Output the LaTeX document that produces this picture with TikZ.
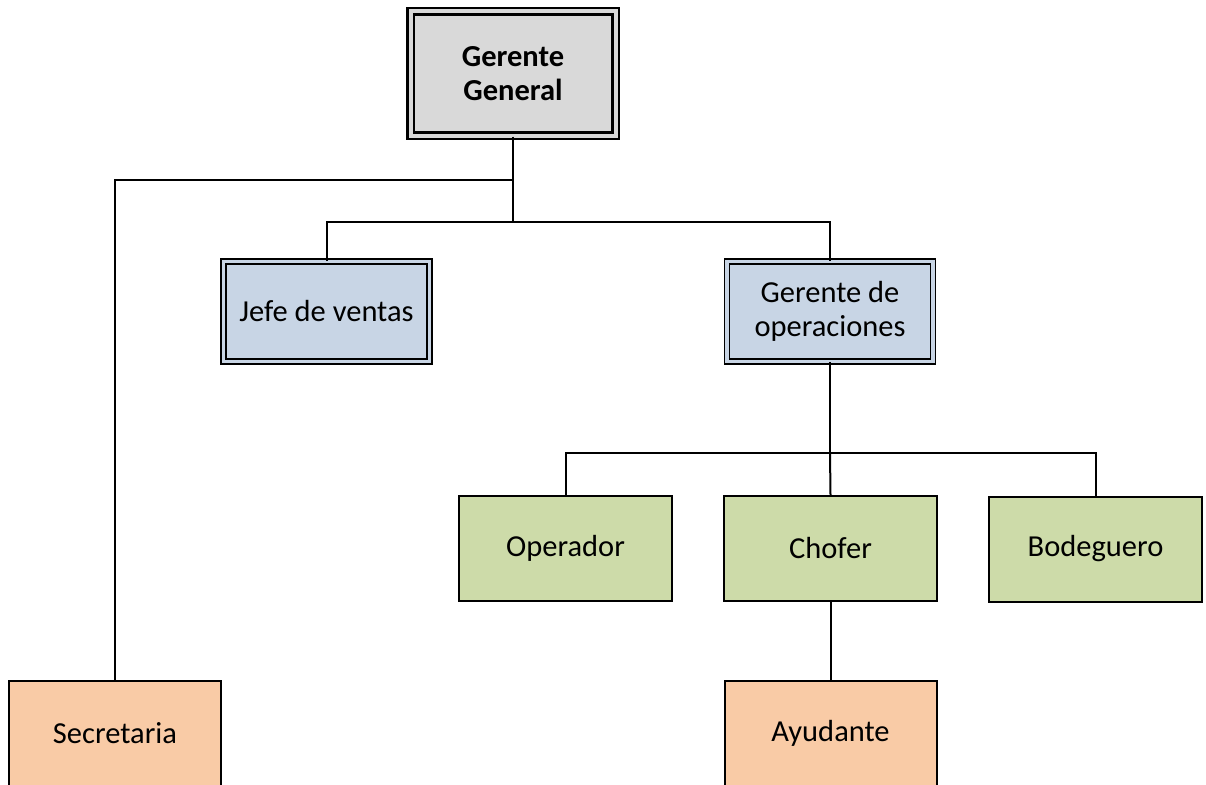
\documentclass[tikz,border=0pt]{standalone}
\usepackage{fontspec}
\setmainfont{Carlito}
\definecolor{topgray}{HTML}{D9D9D9}
\definecolor{mgrblue}{HTML}{C8D5E5}
\definecolor{opgreen}{HTML}{CDDBA9}
\definecolor{staffor}{HTML}{F9CBA6}
\tikzset{
  box/.style={draw=black, line width=2pt, align=center, inner sep=0pt,
    font=\fontsize{30.5}{34}\selectfont, text=black},
  dbox/.style={box, double=#1, line width=1.6pt, double distance=3.2pt, fill=#1},
  mgr/.style={dbox=mgrblue, minimum width=206pt, minimum height=100pt},
  staff/.style={box, fill=opgreen, minimum width=213pt, minimum height=105pt},
  helper/.style={box, fill=staffor, minimum width=212pt, minimum height=105pt},
  link/.style={draw=black, line width=2pt}
}
\begin{document}
\begin{tikzpicture}[x=1pt,y=-1pt]
\useasboundingbox (0,0) rectangle (1206,784);
\clip (0,0) rectangle (1206,784);

% top of the chart
\node[dbox=topgray, line width=2.2pt, double distance=4pt,
      minimum width=205pt, minimum height=124pt, font=\fontsize{30.5}{34.5}\selectfont\bfseries]
  (gg) at (513,73.5) {Gerente\\General};

% managers
\node[mgr] (jv) at (326.5,311.5) {Jefe de ventas};
\node[mgr] (go) at (830,311.5) {Gerente de\\operaciones};

% operations staff
\node[staff] (op) at (565.5,548.5) {Operador};
\node[staff] (ch) at (830.5,548.5) {Chofer};
\node[staff] (bo) at (1095.5,549) {Bodeguero};

% support staff
\node[helper] (se) at (115,733.5) {Secretaria};
\node[helper] (ay) at (830.5,733.5) {Ayudante};

% junction points
\coordinate (jsec) at (513,180);
\coordinate (jmgr) at (513,222);
\coordinate (jops) at (830,453);

% connectors
\draw[link] (gg.south) -- (jmgr);
\draw[link] (jsec) -| (se.north);
\draw[link] (jmgr) -| (jv.north);
\draw[link] (jmgr) -| (go.north);
\draw[link] (go.south) -- (jops);
\draw[link] (jops) -| (op.north);
\draw[link] (jops) -- (ch.north);
\draw[link] (jops) -| (bo.north);
\draw[link] (ch.south) -- (ay.north);
\end{tikzpicture}
\end{document}
